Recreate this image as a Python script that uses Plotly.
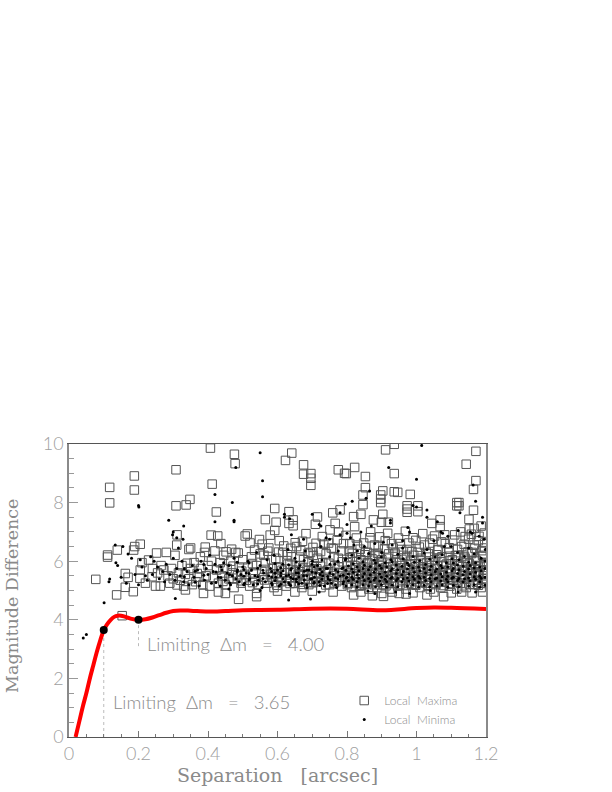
import plotly.graph_objects as go

# values: (separation, magnitude difference)
maxima_sparse = [
    (.117,8.52),(.117,7.99),(.188,8.91),(.188,8.43),(.308,9.12),(.308,7.89),(.337,7.92),(.348,8.11),
    (.407,9.86),(.412,8.63),(.476,9.65),(.478,9.33),(.424,7.68),(.641,9.69),(.623,9.44),(.675,9.29),
    (.675,8.97),(.696,8.99),(.696,8.83),(.696,8.59),(.775,9.12),(.793,9.0),(.592,7.8),(.633,7.69),
    (.565,7.42),(.596,7.33),(.633,7.29),(.645,7.41),(.645,7.21),(.715,7.51),(.709,7.26),(.759,7.65),
    (.78,7.75),(.751,7.07),(.766,7.29),(.776,6.99),(.592,7.05),(.579,6.89),(.682,6.94),(.409,6.89),
    (.428,6.86),(.507,6.86),(.513,6.93),(.556,6.58),(.605,6.7),(.651,6.63),(.711,6.61),(.733,6.58),
    (.911,9.8),(.936,9.99),(1.171,9.75),(1.143,9.31),(1.171,8.75),(1.164,8.45),(.822,9.2),(.798,8.99),
    (.853,8.89),(.936,8.99),(.853,8.51),(.846,8.26),(.846,7.93),(.903,8.4),(.897,8.26),(.897,8.12),
    (.897,8.0),(.936,8.37),(.946,8.35),(.982,8.28),(.973,7.89),(.973,7.78),(.973,7.67),(1.004,7.89),
    (1.004,7.69),(1.116,8.0),(1.122,8.0),(1.116,7.89),(1.122,7.89),(1.164,7.74),(1.151,7.43),(.819,7.52),
    (.84,7.6),(.903,7.6),(.876,7.41),(.899,7.33),(.919,7.33),(.822,7.18),(1.044,7.29),(1.068,7.41),
    (1.068,7.18),(1.166,7.12),(1.14,6.84),(.077,5.38),(.111,6.21),(.111,6.14),(.153,4.14),(.137,4.85),
    (.162,5.11),(.185,4.96),(.17,5.45),(.162,5.58),(.139,6.38),(.186,6.38),(.189,6.5),(.205,6.58),
    (.311,6.9),(.31,6.55),(.345,6.4),(.35,6.45),(.305,6.2),
]
maxima_low = [
    (.488,4.7),(.54,4.9),(.54,4.79),(1.078,4.79),(.819,4.85),(.873,4.82),(.9,4.9),(.905,4.8),(.93,4.95),
    (.95,4.9),(.97,4.88),(.99,4.92),(1.03,4.85),(1.05,4.95),(1.1,4.92),(1.13,4.95),(1.16,4.92),(1.19,4.95),
    (.84,4.95),(.76,4.95),(.7,4.98),(.65,4.95),(.6,4.98),(.45,4.9),(.43,4.95),(.387,4.9),(.335,5.02),
]
maxima_upper = [
    (.392,6.48),(.437,6.6),(.452,6.32),(.468,6.41),(.487,6.28),(.521,6.62),(.534,6.38),(.548,6.74),(.561,6.2),
    (.572,6.34),(.603,6.31),(.618,6.52),(.629,6.22),(.638,6.44),(.667,6.36),(.672,6.68),(.688,6.27),(.702,6.47),
    (.724,6.33),(.729,6.84),(.747,6.62),(.761,6.42),(.772,6.73),(.784,6.35),(.797,6.88),(.808,6.6),(.815,6.27),
    (.827,6.79),(.838,6.41),(.848,6.62),(.859,6.3),(.868,7.0),(.879,6.55),(.888,6.27),(.894,6.83),(.908,6.42),
    (.917,6.95),(.928,6.6),(.938,6.28),(.948,6.79),(.957,6.4),(.968,7.02),(.978,6.62),(.987,6.33),(.998,6.71),
    (1.008,6.48),(1.018,6.94),(1.028,6.3),(1.038,6.62),(1.052,6.86),(1.061,6.38),(1.072,6.66),(1.081,6.9),
    (1.094,6.46),(1.104,6.72),(1.118,6.4),(1.127,7.0),(1.137,6.58),(1.148,6.32),(1.158,6.92),(1.168,6.44),
    (1.178,6.7),(1.188,6.36),(1.195,6.96),(1.152,7.1),(1.186,7.2),(1.196,6.62),
]
maxima_band = [
    (.205,5.7),(.204,5.42),(.229,6.04),(.252,6.28),(.239,5.47),(.249,5.15),(.263,5.15),(.273,5.7),(.22,5.25),
    (.21,5.95),(.24,5.75),(.255,5.6),(.265,5.85),(.28,6.3),(.285,5.5),(.29,5.25),(.295,5.75),(.3,5.4),
    (.311,5.19),(.34,5.93),(.378,6.15),(.369,5.58),(.315,5.6),(.32,5.35),(.325,5.85),(.33,5.15),(.335,5.55),
    (.345,5.4),(.35,5.75),(.355,5.2),(.36,5.95),(.365,5.3),(.375,5.45),(.38,5.75),(.385,5.2),(.39,6.3),
    (.395,5.5),(.4,5.85),(.405,5.15),(.41,6.0),(.415,5.45),(.42,6.35),(.425,5.7),(.43,5.25),(.435,5.95),
    (.44,5.5),(.445,6.2),(.45,5.2),(.455,5.75),(.46,5.4),(.465,6.0),(.47,5.6),(.475,5.1),(.48,6.3),
    (.485,5.5),(.49,5.8),(.495,5.25),(.5,6.05),(.505,5.55),(.51,5.35),(.515,5.8),(.52,5.15),(.525,6.15),
    (.53,5.6),(.535,5.4),(.54,5.85),(.545,5.2),(.55,6.25),(.555,5.65),(.56,5.45),(.565,5.95),(.57,5.25),
    (.575,6.45),(.58,5.55),(.585,5.75),(.59,5.1),(.595,6.1),(.6,5.45),(.605,5.8),(.61,5.3),(.615,6.3),
    (.62,5.6),(.625,5.15),(.63,5.9),(.635,5.45),(.64,6.15),(.645,5.7),(.65,5.25),(.655,6.5),(.66,5.55),
    (.665,5.85),(.67,5.1),(.675,6.05),(.68,5.4),(.685,5.7),(.69,5.2),(.695,6.3),(.7,5.5),(.705,5.85),
    (.71,5.3),(.715,6.1),(.72,5.6),(.725,5.1),(.73,5.95),(.735,5.45),(.74,6.25),(.745,5.7),(.75,5.2),
    (.755,6.45),(.76,5.5),(.765,5.85),(.77,5.3),(.775,6.1),(.78,5.6),(.785,5.15),(.79,6.6),(.795,5.45),
    (.8,5.95),(.803,5.25),(.806,6.35),(.81,5.7),(.813,5.1),(.816,6.15),(.82,5.5),(.823,5.85),(.826,5.3),
    (.83,6.55),(.833,5.65),(.836,5.15),(.84,6.05),(.843,5.4),(.846,5.8),(.85,5.2),(.853,6.3),(.856,5.55),
    (.86,5.95),(.863,5.05),(.866,6.8),(.87,5.45),(.873,5.75),(.876,5.3),(.88,6.2),(.883,5.6),(.886,5.1),
    (.89,6.5),(.893,5.85),(.896,5.35),(.9,6.05),(.903,5.5),(.906,5.2),(.91,6.7),(.913,5.7),(.916,5.4),
    (.92,6.25),(.923,5.05),(.926,5.9),(.93,5.55),(.933,6.45),(.936,5.25),(.94,5.75),(.943,6.05),(.946,5.15),
    (.95,5.45),(.953,6.6),(.956,5.85),(.96,5.3),(.963,6.2),(.966,5.6),(.97,5.05),(.973,6.4),(.976,5.75),
    (.98,5.4),(.983,6.0),(.986,5.2),(.99,6.8),(.993,5.55),(.996,5.9),(1.0,5.3),(1.003,6.3),(1.006,5.65),
    (1.01,5.1),(1.013,6.1),(1.016,5.45),(1.02,5.8),(1.023,6.55),(1.026,5.25),(1.03,5.95),(1.033,5.55),
    (1.036,6.25),(1.04,5.05),(1.043,5.7),(1.046,6.75),(1.05,5.4),(1.053,6.05),(1.056,5.2),(1.06,5.85),
    (1.063,6.4),(1.066,5.5),(1.07,5.1),(1.073,6.15),(1.076,5.65),(1.08,5.3),(1.083,6.6),(1.086,5.9),
    (1.09,5.45),(1.093,6.3),(1.096,5.15),(1.1,5.75),(1.103,6.05),(1.106,5.35),(1.11,6.9),(1.113,5.55),
    (1.116,5.05),(1.12,6.2),(1.123,5.85),(1.126,5.25),(1.13,6.5),(1.133,5.65),(1.136,5.4),(1.14,6.1),
    (1.143,5.1),(1.146,5.95),(1.15,6.75),(1.153,5.5),(1.156,5.75),(1.16,6.3),(1.163,5.2),(1.166,6.55),
    (1.17,5.6),(1.173,6.0),(1.176,5.35),(1.18,6.85),(1.183,5.8),(1.186,5.1),(1.19,6.2),(1.193,5.5),
    (1.196,6.45),(1.198,5.7),(1.198,5.25),(1.195,5.95),(1.19,5.4),(1.18,5.6),(1.17,5.85),(1.16,5.5),
]
# the crowded part of the band, one row per separation
maxima_crowd = [
    (.443,[5.31,5.74]),(.472,[5.42,5.83]),(.497,[5.33,5.66]),(.528,[5.27,5.92]),(.563,[5.36,5.72]),(.583,[5.46,6.05]),
    (.598,[5.18,5.57,5.77]),(.613,[5.41,5.69]),(.627,[5.33,6.02]),(.636,[5.24,5.61,5.9]),(.652,[5.43,5.66]),
    (.664,[5.29,5.64,6.14]),(.673,[5.21,5.53,5.79]),(.689,[5.38,5.96]),(.703,[5.27,5.71,6.2]),(.713,[5.47,5.74]),
    (.724,[5.32,5.55,5.83]),(.739,[5.19,5.64]),(.748,[5.4,5.93]),(.763,[5.26,5.62,6.15]),(.777,[5.45,5.8]),
    (.786,[5.36,5.98]),(.801,[5.2,5.5,5.84]),(.809,[5.43,5.6,6.12]),(.822,[5.26,5.77]),(.828,[5.47,5.58,6.0]),
    (.842,[5.18,5.56,5.79]),(.851,[5.37,5.68,6.22]),(.858,[5.23,5.46,5.9]),(.872,[5.41,5.65,6.08]),(.878,[5.2,5.54,5.87]),
    (.892,[5.44,5.72,6.18]),(.898,[5.28,5.63,5.96]),(.912,[5.16,5.48,5.79]),(.918,[5.38,5.66,6.1]),(.932,[5.24,5.53,5.83]),
    (.938,[5.43,5.7,6.24]),(.952,[5.2,5.58,5.95]),(.958,[5.36,5.65,6.06]),(.972,[5.48,5.77,6.16]),(.978,[5.24,5.6,5.9]),
    (.992,[5.38,5.68,6.2]),(.998,[5.18,5.47,5.81]),(1.012,[5.42,5.72,6.04]),(1.018,[5.28,5.62,5.93]),(1.032,[5.18,5.46,5.77]),
    (1.038,[5.38,5.66,6.14]),(1.052,[5.24,5.56,5.86]),(1.058,[5.46,5.74,6.22]),(1.072,[5.28,5.6,5.98]),(1.078,[5.17,5.5,5.83]),
    (1.092,[5.38,5.68,6.12]),(1.098,[5.24,5.58,5.91]),(1.112,[5.44,5.72,6.19]),(1.118,[5.28,5.62,6.0]),(1.132,[5.16,5.5,5.81]),
    (1.138,[5.38,5.7,6.16]),(1.152,[5.22,5.58,5.92]),(1.158,[5.46,5.76,6.26]),(1.172,[5.28,5.64,6.03]),(1.178,[5.18,5.52,5.85]),
    (1.192,[5.4,5.7,6.17]),(1.197,[5.26,5.6,5.96]),
]
minima_sparse = [
    (.041,3.38),(.05,3.5),(.101,4.58),(.117,5.39),(.306,4.73),(.632,4.68),(.695,4.71),(.135,5.95),(.133,6.55),
    (.155,6.5),(.2,7.9),(.201,7.85),(.287,7.4),(.3,7.0),(.298,6.9),(.328,6.75),(.31,6.8),(.315,6.45),(.33,7.2),
    (.42,8.28),(.42,7.35),(.48,9.2),(.47,8.0),(.475,7.4),(.475,7.35),(.55,9.7),(.557,8.75),(.557,8.2),(.62,7.6),
    (.62,7.5),(.635,7.45),(.64,6.9),(.675,6.75),(.7,7.6),(.72,7.25),(.725,7.2),(.75,6.75),(.78,6.9),(.795,7.95),
    (.8,7.25),(.8,6.95),(.81,6.8),(.815,8.05),(.78,7.65),(.84,7.0),(.865,8.4),(.855,8.15),(.87,7.2),(.92,9.2),
    (.925,7.4),(.925,7.3),(.975,7.15),(.98,7.0),(1.0,8.8),(1.0,7.85),(.99,7.9),(1.03,7.5),(1.03,7.75),(1.015,9.95),
    (1.125,7.65),(1.163,8.6),(1.17,8.05),(1.155,7.0),(1.16,6.95),(1.19,7.5),(1.19,7.3),(1.18,6.85),(1.195,6.75),
    (1.06,7.35),(1.07,7.0),(1.075,6.95),(1.09,6.85),(1.1,6.5),(1.12,7.05),(.93,6.55),(.96,6.7),(1.05,6.7),(.74,6.8),
    (.905,6.65),(.88,6.6),(.85,6.5),(.82,6.55),
]
minima_band = [
    (.115,5.3),(.14,5.85),(.15,5.45),(.165,5.25),(.17,6.25),(.18,6.1),(.19,5.55),(.2,5.2),(.205,6.05),(.21,5.8),
    (.22,5.5),(.225,5.35),(.235,6.15),(.24,5.55),(.245,6.0),(.255,5.8),(.26,5.4),(.27,5.65),(.275,5.3),(.28,5.9),
    (.29,5.55),(.3,6.1),(.305,5.35),(.31,5.75),(.32,5.5),(.325,6.0),(.33,5.3),(.34,5.65),(.345,5.2),(.355,5.85),
    (.36,5.45),(.37,5.7),(.375,5.15),(.38,6.0),(.39,5.35),(.395,5.75),(.4,5.55),(.405,6.2),(.41,5.25),(.415,5.65),
    (.42,5.9),(.43,5.45),(.435,5.15),(.44,5.7),(.445,5.95),(.45,5.35),(.455,5.6),(.46,5.85),(.465,5.2),(.47,5.5),
    (.475,6.1),(.48,5.4),(.485,5.7),(.49,5.3),(.495,5.55),(.5,5.8),(.505,5.25),(.51,5.6),(.515,6.0),(.52,5.4),
    (.525,5.7),(.53,5.2),(.535,5.5),(.54,6.3),(.545,5.35),(.55,5.85),(.555,5.1),(.56,5.6),(.565,5.3),(.57,6.05),
    (.575,5.5),(.58,5.75),(.585,5.2),(.59,6.2),(.595,5.45),(.6,5.7),(.605,5.15),(.61,5.6),(.615,5.9),(.62,5.3),
    (.625,5.5),(.63,6.4),(.635,5.2),(.64,5.75),(.645,5.4),(.65,6.1),(.655,5.3),(.66,5.6),(.665,5.85),(.67,5.25),
    (.675,5.5),(.68,6.35),(.685,5.1),(.69,5.7),(.695,5.4),(.7,6.0),(.705,5.25),(.71,5.6),(.715,5.85),(.72,5.3),
    (.725,6.5),(.73,5.5),(.735,5.15),(.74,5.75),(.745,5.4),(.75,6.15),(.755,5.25),(.76,5.55),(.765,5.9),(.77,5.1),
    (.775,6.35),(.78,5.5),(.785,5.75),(.79,5.3),(.795,6.05),(.8,5.45),(.88,4.9),(.94,4.95),(.98,4.9),(1.04,5.0),
    (1.12,4.95),(1.17,4.95),(.86,4.98),(.72,4.95),(.55,5.0),(.46,5.05),(.83,6.35),(.9,6.3),(.96,6.45),(1.03,6.4),
    (1.08,6.5),(1.15,6.45),(1.198,6.4),
]
minima_crowd = [
    (.332,[5.47,5.74]),(.363,[5.28,5.66]),(.388,[5.52,5.89]),(.423,[5.27,5.63]),(.437,[5.44,5.81]),(.462,[5.26,5.54]),
    (.484,[5.63,5.96]),(.503,[5.2,5.49,5.72]),(.518,[5.36,5.58,5.94]),(.543,[5.22,5.47,5.76]),(.558,[5.41,5.69]),
    (.583,[5.25,5.46,5.65]),(.593,[5.34,5.59,5.92]),(.609,[5.21,5.5,5.78]),(.616,[5.4,5.67]),(.632,[5.26,5.53,5.88]),
    (.638,[5.17,5.44,5.7]),(.654,[5.38,5.61,5.97]),(.661,[5.23,5.46,5.76]),(.677,[5.36,5.66,6.02]),(.684,[5.2,5.5,5.7]),
    (.699,[5.4,5.63,5.9]),(.706,[5.28,5.45,5.8]),(.722,[5.17,5.55,5.73]),(.728,[5.38,5.63,6.04]),(.744,[5.24,5.48,5.75]),
    (.751,[5.36,5.6,5.9]),(.767,[5.2,5.43,5.71]),(.774,[5.39,5.64,6.0]),(.789,[5.23,5.52,5.78]),(.797,[5.15,5.43,5.69,6.08]),
    (.804,[5.33,5.56,5.84]),(.814,[5.2,5.45,5.73,6.2]),(.818,[5.38,5.62,5.91]),(.829,[5.12,5.3,5.54,5.8]),(.834,[5.42,5.67,6.1]),
    (.846,[5.2,5.47,5.75,5.98]),(.85,[5.34,5.58,5.86]),(.862,[5.15,5.41,5.71,6.26]),(.867,[5.3,5.54,5.82]),(.878,[5.36,5.62,6.03]),
    (.882,[5.13,5.43,5.73,5.94]),(.894,[5.32,5.56,5.85]),(.899,[5.2,5.45,5.76,6.14]),(.91,[5.38,5.62,5.95]),(.914,[5.11,5.3,5.49,5.8]),
    (.926,[5.42,5.67,6.05]),(.93,[5.18,5.45,5.74,5.98]),(.942,[5.34,5.58,5.87]),(.946,[5.13,5.41,5.71,6.24]),(.958,[5.3,5.54,5.83]),
    (.962,[5.4,5.65,6.08]),(.974,[5.15,5.43,5.73,5.94]),(.978,[5.32,5.56,5.85]),(.99,[5.2,5.47,5.77,6.16]),(.994,[5.38,5.62,5.96]),
    (1.006,[5.11,5.28,5.49,5.8]),(1.01,[5.42,5.67,6.02]),(1.022,[5.18,5.45,5.75,6.28]),(1.026,[5.34,5.6,5.89]),(1.038,[5.13,5.41,5.71,6.07]),
    (1.042,[5.3,5.54,5.83]),(1.054,[5.4,5.65,6.14]),(1.058,[5.15,5.43,5.73,5.96]),(1.07,[5.32,5.56,5.85]),(1.074,[5.2,5.47,5.77,6.22]),
    (1.086,[5.38,5.62,5.95]),(1.09,[5.11,5.3,5.49,5.8]),(1.102,[5.42,5.67,6.08]),(1.106,[5.18,5.45,5.75,5.94]),(1.118,[5.34,5.58,5.87,6.3]),
    (1.122,[5.13,5.41,5.71,6.05]),(1.134,[5.3,5.54,5.83]),(1.138,[5.4,5.65,6.16]),(1.15,[5.15,5.43,5.73,5.96]),(1.154,[5.32,5.56,5.85]),
    (1.166,[5.2,5.47,5.77,6.25]),(1.17,[5.38,5.62,5.95]),(1.182,[5.11,5.3,5.49,5.8]),(1.186,[5.42,5.67,6.1]),(1.197,[5.18,5.45,5.75,6.0]),
]
curve_sep = [.019,.03,.04,.05,.06,.07,.08,.09,.1,.11,.12,.13,.14,.15,.16,.17,.18,.2,.22,.24,.26,.28,.3,.32,.35,.4,
             .45,.5,.6,.7,.8,.9,1.0,1.05,1.1,1.2]
curve_dm = [0,.55,1.05,1.5,2.0,2.45,2.9,3.3,3.65,3.85,4.0,4.1,4.14,4.14,4.11,4.07,4.03,4.0,4.02,4.08,4.16,4.24,4.3,
            4.32,4.31,4.28,4.3,4.33,4.34,4.38,4.38,4.33,4.4,4.42,4.41,4.37]
limit_sep = [.1,.2]
limit_dm = [3.65,4.0]
limit_floor = [0,3.1]
x_ticks = [0,.2,.4,.6,.8,1,1.2]
y_ticks = [0,2,4,6,8,10]

GREY = '#8c8c8c'
THIN = 'Lato'
SERIF = 'DejaVu Serif'

maxima = maxima_sparse + maxima_low + maxima_upper + maxima_band + [(s, d) for s, ds in maxima_crowd for d in ds]
minima = minima_sparse + minima_band + [(s, d) for s, ds in minima_crowd for d in ds]

fig = go.Figure()

fig.add_trace(go.Scatter(
    x=[p[0] for p in maxima], y=[p[1] for p in maxima], mode='markers', name='Local\u00a0 Maxima',
    legendgroup='a', marker=dict(symbol='square-open', size=8.5, color='#555555', line=dict(width=1, color='#555555'))
))
fig.add_trace(go.Scatter(
    x=[p[0] for p in minima], y=[p[1] for p in minima], mode='markers', name='Local\u00a0 Minima',
    legendgroup='b', marker=dict(symbol='circle', size=3, color='black')
))

# dotted drop lines under the two limits
for sep, dm, floor in zip(limit_sep, limit_dm, limit_floor):
    fig.add_trace(go.Scatter(x=[sep, sep], y=[floor, dm], mode='lines', showlegend=False,
                             line=dict(color='#bbbbbb', width=1, dash='dot')))

fig.add_trace(go.Scatter(x=curve_sep, y=curve_dm, mode='lines', showlegend=False,
                         line=dict(color='#ff0000', width=4, shape='spline')))
fig.add_trace(go.Scatter(x=limit_sep, y=limit_dm, mode='markers', showlegend=False,
                         marker=dict(color='black', size=8)))

for sep, dm, label in [(.22, 3.17, '4.00'), (.122, 1.19, '3.65')]:
    fig.add_annotation(x=sep, y=dm, xanchor='left', yanchor='middle', showarrow=False,
                       text='Limiting\u00a0 Δm\u00a0 \u00a0=\u00a0 \u00a0' + label,
                       font=dict(family=THIN, size=18.5, weight=300, color=GREY))

tick_font = dict(family=THIN, size=18, weight=300, color='#a0a0a0')
fig.update_xaxes(
    range=[0, 1.2], tickvals=x_ticks, ticktext=['0', '0.2', '0.4', '0.6', '0.8', '1', '1.2'],
    showgrid=False, zeroline=False, showline=True, linecolor='#555555', linewidth=1, mirror=True,
    ticks='inside', tickcolor='#777777', ticklen=6, tickwidth=1, tickfont=tick_font, automargin=False,
    minor=dict(ticks='inside', dtick=.05, ticklen=3, tickcolor='#777777', tickwidth=1, showgrid=False),
    title=dict(text='Separation\u00a0 \u00a0[arcsec]', font=dict(family=SERIF, size=19, color='#8a8a8a'), standoff=6),
)
fig.update_yaxes(
    range=[0, 10], tickvals=y_ticks,
    showgrid=False, zeroline=False, showline=True, linecolor='#8a8a8a', linewidth=1.5, mirror=True,
    ticks='inside', tickcolor='#999999', ticklen=9, tickwidth=1, tickfont=tick_font, automargin=False,
    minor=dict(ticks='inside', dtick=.5, ticklen=5, tickcolor='#999999', tickwidth=1, showgrid=False),
)
# sits a little below the axis middle, as in the original
fig.add_annotation(xref='paper', yref='paper', x=-.164, y=.48, textangle=-90, showarrow=False,
                   text='Magnitude Difference', font=dict(family=SERIF, size=17.5, color='#8a8a8a'))
fig.update_layout(
    width=612, height=792, autosize=False, paper_bgcolor='white', plot_bgcolor='white',
    margin=dict(l=68.5, r=125.5, t=444, b=55),
    legend=dict(x=.66, y=.174, xanchor='left', yanchor='top', bgcolor='rgba(0,0,0,0)', traceorder='grouped',
                tracegroupgap=0, itemsizing='trace', font=dict(family=THIN, size=12, weight=300, color=GREY)),
)

# page margin off, the y title needs the room at the left edge
fig.write_html("out.html", config={'displayModeBar': False}, post_script="document.body.style.margin = '0';")
